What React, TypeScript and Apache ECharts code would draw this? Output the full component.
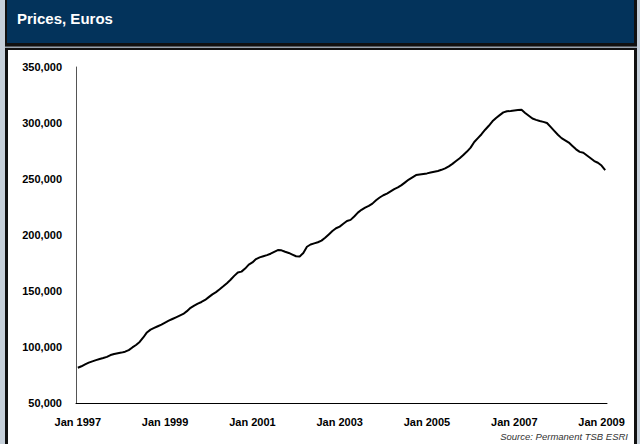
import React, { useEffect, useRef } from "react";
import * as echarts from "echarts";

const monthNames = ["Jan", "Feb", "Mar", "Apr", "May", "Jun", "Jul", "Aug", "Sep", "Oct", "Nov", "Dec"];
const startYear = 1997;
const monthCount = 146; // Jan 1997 .. Feb 2009

// Average house prices, euros (monthly)
const prices1997 = [81500, 82800, 84500, 86000, 87200, 88300, 89300, 90200, 91200, 92800, 93800, 94500];
const prices1998 = [95000, 95800, 97200, 99600, 101800, 104500, 108500, 113000, 115500, 117000, 118500, 120000];
const prices1999 = [121800, 123500, 125000, 126500, 128000, 129500, 132000, 135000, 137000, 138800, 140200, 142000];
const prices2000 = [144500, 147000, 149000, 151500, 154200, 157000, 160000, 163500, 166500, 167300, 170000, 173500];
const prices2001 = [175500, 178500, 180000, 181000, 182000, 183300, 185000, 186500, 186300, 185000, 184000, 182500];
const prices2002 = [181000, 180800, 184000, 189500, 191500, 192500, 193500, 195000, 197500, 200500, 203500, 206000];
const prices2003 = [207500, 210000, 212500, 213500, 216500, 220000, 222500, 224500, 226000, 228000, 231000, 233500];
const prices2004 = [235500, 237000, 239000, 241000, 242500, 244500, 247000, 249500, 251500, 253500, 254000, 254500];
const prices2005 = [255000, 255800, 256500, 257200, 258200, 259500, 261300, 263500, 266000, 268500, 271500, 274500];
const prices2006 = [278000, 283000, 286500, 290000, 294000, 297500, 301500, 304500, 307000, 309500, 310500, 310800];
const prices2007 = [311200, 311500, 311800, 309000, 306500, 304000, 302800, 301800, 301000, 300000, 296500, 293000];
const prices2008 = [289500, 286500, 284500, 282500, 279500, 276500, 274200, 273500, 271000, 268500, 266000, 264500];
const prices2009 = [262000, 258000];

const yTicks = [50000, 100000, 150000, 200000, 250000, 300000, 350000];
const labelEvery = 24;

const titleText = "Prices, Euros";
const sourceText = "Source: Permanent TSB ESRI";

const categories: string[] = [];
for (let i = 0; i < monthCount; i++) {
  categories.push(monthNames[i % 12] + " " + (startYear + Math.floor(i / 12)));
}
const prices = [
  ...prices1997, ...prices1998, ...prices1999, ...prices2000, ...prices2001,
  ...prices2002, ...prices2003, ...prices2004, ...prices2005, ...prices2006,
  ...prices2007, ...prices2008, ...prices2009,
];

const FONT = "'Liberation Sans', Arial, Helvetica, sans-serif";

export default function App() {
  const ref = useRef<HTMLDivElement>(null);
  useEffect(() => {
    document.body.style.margin = "0";
    if (!ref.current) return;
    const chart = echarts.init(ref.current, undefined, { renderer: "svg" });
    chart.setOption({
      animation: false,
      backgroundColor: "#c6d0da",
      graphic: [
        { type: "rect", z: -10, shape: { x: 5, y: 0, width: 632, height: 444 }, style: { fill: "#111111" } },
        { type: "rect", z: -9, shape: { x: 7, y: 0, width: 627, height: 43 }, style: { fill: "#03335b" } },
        { type: "rect", z: -9, shape: { x: 5, y: 46.5, width: 632, height: 1.5 }, style: { fill: "#9aa4ae" } },
        { type: "rect", z: -9, shape: { x: 8, y: 50, width: 626, height: 394 }, style: { fill: "#ffffff" } },
        {
          type: "text", left: 17, top: 11,
          style: { text: titleText, fill: "#ffffff", font: `bold 15px ${FONT}` },
        },
        {
          type: "text", right: 12, top: 431,
          style: { text: sourceText, fill: "#333333", font: `italic 9.5px ${FONT}`, textAlign: "right" },
        },
      ],
      grid: { left: 76, right: 33, top: 67, bottom: 41, containLabel: false },
      xAxis: {
        type: "category",
        data: categories,
        boundaryGap: true,
        axisLine: { show: true, lineStyle: { color: "#000000", width: 1 } },
        axisTick: { show: false },
        axisLabel: {
          interval: (index: number) => index % labelEvery === 0,
          color: "#000000",
          fontFamily: FONT,
          fontWeight: "bold",
          fontSize: 11,
          margin: 13,
        },
        splitLine: { show: false },
      },
      yAxis: {
        type: "value",
        min: yTicks[0],
        max: yTicks[yTicks.length - 1],
        interval: yTicks[1] - yTicks[0],
        axisLine: { show: true, lineStyle: { color: "#555555", width: 1 } },
        axisTick: { show: false },
        splitLine: { show: false },
        axisLabel: {
          color: "#000000",
          fontFamily: FONT,
          fontWeight: "bold",
          fontSize: 11,
          margin: 14,
          formatter: (v: number) => v.toLocaleString("en-US"),
        },
      },
      series: [
        {
          type: "line",
          data: prices,
          symbol: "none",
          smooth: false,
          lineStyle: { color: "#000000", width: 2 },
        },
      ],
    });
    return () => chart.dispose();
  }, []);
  return <div ref={ref} style={{ width: 640, height: 444 }} />;
}
